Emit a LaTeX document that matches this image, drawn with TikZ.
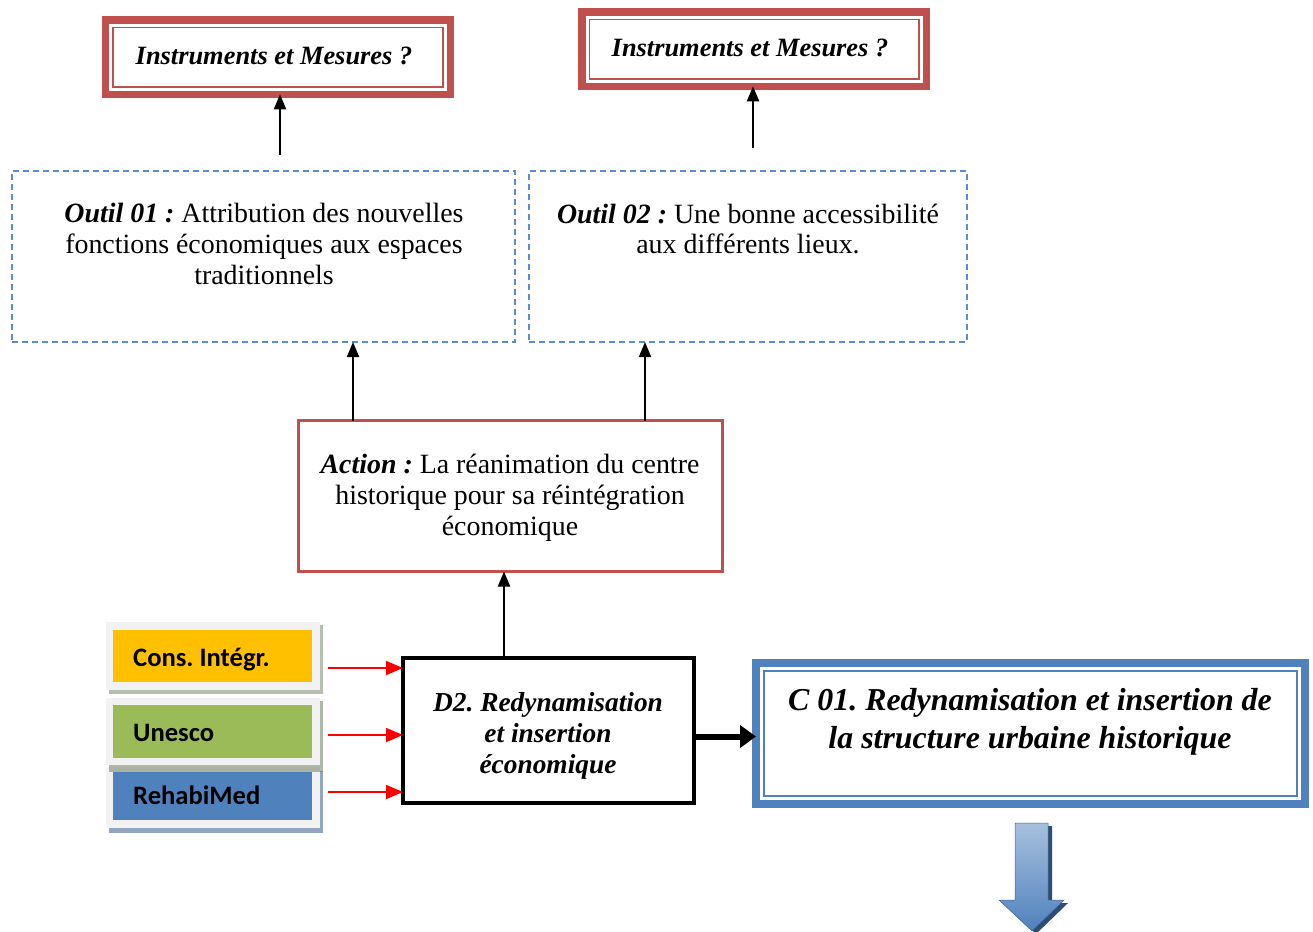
\documentclass[tikz,border=0pt]{standalone}
\usepackage{fontspec}
\setmainfont{Liberation Serif}
\newfontfamily\calib{Carlito}
\usetikzlibrary{arrows.meta}
\definecolor{redc}{HTML}{C0504D}
\definecolor{bluec}{HTML}{4F81BD}
\definecolor{dashc}{HTML}{5B8BD0}
\definecolor{yel}{HTML}{FFC000}
\definecolor{grn}{HTML}{9BBB59}
\definecolor{frm}{HTML}{F2F2F2}
\definecolor{shd}{HTML}{6F7F5F}
\definecolor{arrtop}{HTML}{A7C0DE}
\definecolor{arrdark}{HTML}{2C4D75}
\begin{document}
\frenchspacing
\begin{tikzpicture}[x=1bp,y=-1bp,
 box/.style={draw, rectangle, inner sep=0pt, outer sep=0pt},
 txt/.style={align=center, inner sep=0pt, font=\fontsize{28}{31}\selectfont},
 bitxt/.style={align=center, inner sep=0pt, font=\bfseries\itshape\fontsize{26.5}{31}\selectfont},
 blk/.style={-{Triangle[width=12bp,length=15bp]}, line width=2bp},
 redarr/.style={draw=red, -{Triangle[width=14bp,length=17bp]}, line width=1.8bp},
 lbl/.style={anchor=west, inner sep=0pt, font=\calib\bfseries\fontsize{26.7}{30}\selectfont},
 dbox/.style={box, draw=dashc, line width=2bp, dash pattern=on 6bp off 4bp}
]
\useasboundingbox (0,0) rectangle (1313,931);

% Instruments boxes
\node[box, draw=redc, line width=7.5bp, minimum width=344.5bp, minimum height=74.5bp] (i1) at (278,57) {};
\draw[redc, line width=1.5bp] ([shift={(7.5,7.5)}]i1.north west) rectangle ([shift={(-7.5,-7.5)}]i1.south east);
\node[bitxt] (ti1) at (274,56) {Instruments et Mesures ?};

\node[box, draw=redc, line width=7.5bp, minimum width=344.5bp, minimum height=74.5bp] (i2) at (754,49) {};
\draw[redc, line width=1.5bp] ([shift={(7.5,7.5)}]i2.north west) rectangle ([shift={(-7.5,-7.5)}]i2.south east);
\node[bitxt] (ti2) at (750,48) {Instruments et Mesures ?};

% Outil boxes
\node[dbox, minimum width=503bp, minimum height=171bp] (o1) at (263.5,256.5) {};
\node[txt] (to1) at (264,244) {\textbf{\textit{Outil 01 :}} Attribution des nouvelles\\fonctions économiques aux espaces\\traditionnels};
\node[dbox, minimum width=438bp, minimum height=171bp] (o2) at (748,256.5) {};
\node[txt] (to2) at (748,229) {\textbf{\textit{Outil 02 :}} Une bonne accessibilité\\aux différents lieux.};

% Action box
\node[box, draw=redc, line width=3bp, minimum width=424bp, minimum height=151bp] (act) at (510.5,496) {};
\node[txt] (tact) at (510,498) {\textbf{\textit{Action :}} La réanimation du centre\\historique pour sa réintégration\\économique};

% D2 box
\node[box, draw=black, line width=4bp, minimum width=291bp, minimum height=145bp] (d2) at (548.5,730.5) {};
\node[bitxt, font=\bfseries\itshape\fontsize{27.5}{31}\selectfont] (td2) at (548,736) {D2. Redynamisation\\et insertion\\économique};

% C01 box
\node[box, draw=bluec, line width=8bp, minimum width=549bp, minimum height=141bp] (c1) at (1030.5,733.5) {};
\draw[bluec, line width=2bp] ([shift={(8,8)}]c1.north west) rectangle ([shift={(-8,-8)}]c1.south east);
\node[align=center, inner sep=0pt, font=\bfseries\itshape\fontsize{32}{38}\selectfont] (tc1) at (1030,722) {C 01. Redynamisation et insertion de\\la structure urbaine historique};

% Arrows to Instruments
\coordinate (a1) at (280,155);
\draw[blk] (a1) -- (a1 |- i1.south);
\coordinate (a2) at (753,148);
\draw[blk] (a2) -- (a2 |- i2.south);

% Arrows action -> outils
\coordinate (x1) at (353,0);
\coordinate (x2) at (645,0);
\draw[blk] (x1 |- act.north) -- (x1 |- o1.south);
\draw[blk] (x2 |- act.north) -- (x2 |- o2.south);

% D2 -> action
\coordinate (x3) at (504,0);
\draw[blk] (x3 |- d2.north) -- (x3 |- act.south);

% D2 -> C01
\draw[line width=6bp, -{Triangle[width=22bp,length=16bp]}] ([shift={(0,6)}]d2.east) -- ([shift={(0,6)}]d2.east -| c1.west);

% Colored labels
\fill[bluec!60!gray!70] (109,771) rectangle (323,833);
\node[box, fill=frm, minimum width=214bp, minimum height=61bp, draw=none] (fr3) at (213,797.5) {};
\node[box, fill=bluec, minimum width=199bp, minimum height=48bp, draw=none] (b3) at (212.5,796) {};
\fill[shd, opacity=0.55] (109,701) rectangle (323,772);
\node[box, fill=frm, minimum width=214bp, minimum height=67bp, draw=none] (fr2) at (213,731.5) {};
\node[box, fill=grn, minimum width=199bp, minimum height=53bp, draw=none] (b2) at (212.5,731.5) {};
\fill[shd, opacity=0.5] (109,625) rectangle (323,694);
\node[box, fill=frm, minimum width=214bp, minimum height=68bp, draw=none] (fr1) at (213,656) {};
\node[box, fill=yel, minimum width=199bp, minimum height=52bp, draw=none] (b1) at (212.5,656) {};
\node[lbl] (l1) at (133,660) {Cons. Intégr.};
\node[lbl] (l2) at (133,733) {Unesco};
\node[lbl] (l3) at (133,795) {RehabiMed};

% Red arrows
\coordinate (r1) at (328,668);
\coordinate (r2) at (328,735);
\coordinate (r3) at (328,792);
\draw[redarr] (r1) -- (r1 -| d2.west);
\draw[redarr] (r2) -- (r2 -| d2.west);
\draw[redarr] (r3) -- (r3 -| d2.west);

% Big down arrow
\coordinate (ba) at (1032,823);
\fill[arrdark] ([shift={(4,3)}]ba) ++(-17,0) -- ++(33,0) -- ++(0,77) -- ++(16,0) -- ++(-32,31) -- ++(-33,-31) -- ++(16,0) -- cycle;
\shade[top color=arrtop, bottom color=bluec, draw=bluec!80!black, line width=0.5bp] (ba) ++(-17,0) -- ++(33,0) -- ++(0,77) -- ++(16,0) -- ++(-32,31) -- ++(-33,-31) -- ++(16,0) -- cycle;
\end{tikzpicture}
\end{document}
